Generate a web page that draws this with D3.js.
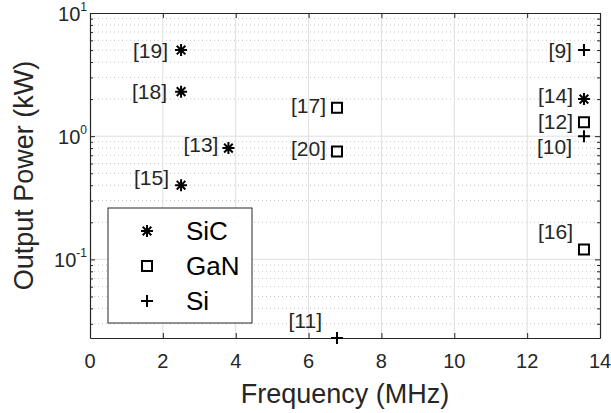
<!DOCTYPE html>
<html>
<head>
<meta charset="utf-8">
<script src="https://cdn.jsdelivr.net/npm/d3@7"></script>
<style>
  body { margin: 0; background: #fff; }
  svg { display: block; font-family: "Liberation Sans", Arial, Helvetica, sans-serif; }
</style>
</head>
<body>
<div id="chart"></div>
<script>
// values (frequency in MHz, output power in kW)
const sicFreq  = [2.5, 2.5, 3.8, 2.5, 13.56];
const sicPower = [5, 2.3, 0.8, 0.4, 2];
const sicRefs  = ['[19]', '[18]', '[13]', '[15]', '[14]'];

const ganFreq  = [6.78, 6.78, 13.56, 13.56];
const ganPower = [1.7, 0.75, 1.3, 0.12];
const ganRefs  = ['[17]', '[20]', '[12]', '[16]'];

const siFreq   = [13.56, 13.56, 6.78];
const siPower  = [5, 1.0, 0.023];
const siRefs   = ['[9]', '[10]', '[11]'];

const seriesNames = ['SiC', 'GaN', 'Si'];
const xTicks = [0, 2, 4, 6, 8, 10, 12, 14];
const yDecades = [0.1, 1, 10];
const yExponents = ['-1', '0', '1'];

// pixel nudges for the reference labels [dx, dy] relative to the marker
const labelNudge = {
    '[19]': [-13, 0], '[18]': [-14, 0], '[13]': [-10, -4], '[15]': [-12, -8], '[14]': [-11, -4],
    '[17]': [-11, -2], '[20]': [-11, -3], '[12]': [-11, -1], '[16]': [-11, -18],
    '[9]': [-12, 0], '[10]': [-12, 10], '[11]': [-15, -18]
};

const W = 611, H = 413;
const margin = { top: 13, right: 11, bottom: 75, left: 90 };
const iw = W - margin.left - margin.right;
const ih = H - margin.top - margin.bottom;
const AX = '#262626';

const x = d3.scaleLinear().domain([0, 14]).range([0, iw]);
const y = d3.scaleLog().domain([0.023, 10]).range([ih, 0]);

const svg = d3.select('#chart').append('svg')
    .attr('width', W)
    .attr('height', H);

const g = svg.append('g').attr('transform', `translate(${margin.left},${margin.top})`);

// minor y values inside the domain
const minorY = [];
[0.01, 0.1, 1].forEach(dec => {
    for (let k = 2; k <= 9; k++) {
        const v = dec * k;
        if (v > y.domain()[0] && v < y.domain()[1]) minorY.push(v);
    }
});

// grid
g.append('g').selectAll('line').data(minorY).join('line')
    .attr('x1', 0).attr('x2', iw)
    .attr('y1', d => y(d)).attr('y2', d => y(d))
    .attr('stroke', '#c4c4c4')
    .attr('stroke-width', 1)
    .attr('stroke-dasharray', '1,3');

g.append('g').selectAll('line').data(xTicks.slice(1, -1)).join('line')
    .attr('x1', d => x(d)).attr('x2', d => x(d))
    .attr('y1', 0).attr('y2', ih)
    .attr('stroke', '#dfdfdf')
    .attr('stroke-width', 1);

g.append('g').selectAll('line').data(yDecades.slice(0, -1)).join('line')
    .attr('x1', 0).attr('x2', iw)
    .attr('y1', d => y(d)).attr('y2', d => y(d))
    .attr('stroke', '#dfdfdf')
    .attr('stroke-width', 1);

// axes with inward ticks on all four sides
const xAxisB = d3.axisBottom(x).tickValues(xTicks).tickSizeInner(-5).tickSizeOuter(0).tickFormat('');
const xAxisT = d3.axisTop(x).tickValues(xTicks).tickSizeInner(-5).tickSizeOuter(0).tickFormat('');
const yAxisL = d3.axisLeft(y).tickValues(yDecades).tickSizeInner(-5).tickSizeOuter(0).tickFormat('');
const yAxisR = d3.axisRight(y).tickValues(yDecades).tickSizeInner(-5).tickSizeOuter(0).tickFormat('');
const yMinorL = d3.axisLeft(y).tickValues(minorY).tickSizeInner(-3).tickSizeOuter(0).tickFormat('');
const yMinorR = d3.axisRight(y).tickValues(minorY).tickSizeInner(-3).tickSizeOuter(0).tickFormat('');

function styleAxis(sel) {
    sel.selectAll('path').attr('stroke', AX).attr('stroke-width', 1.2);
    sel.selectAll('line').attr('stroke', AX).attr('stroke-width', 1);
}

g.append('g').attr('transform', `translate(0,${ih})`).call(xAxisB).call(styleAxis);
g.append('g').call(xAxisT).call(styleAxis);
g.append('g').call(yAxisL).call(styleAxis);
g.append('g').attr('transform', `translate(${iw},0)`).call(yAxisR).call(styleAxis);
g.append('g').call(yMinorL).call(styleAxis).select('path').remove();
g.append('g').attr('transform', `translate(${iw},0)`).call(yMinorR).call(styleAxis).select('path').remove();

// tick labels
g.append('g').selectAll('text').data(xTicks).join('text')
    .attr('x', d => x(d))
    .attr('y', ih + 30)
    .attr('text-anchor', 'middle')
    .attr('font-size', 20)
    .attr('fill', AX)
    .text(d => d);

const yl = g.append('g').selectAll('text').data(yDecades).join('text')
    .attr('x', -3)
    .attr('y', d => y(d) + 8)
    .attr('text-anchor', 'end')
    .attr('font-size', 20)
    .attr('fill', AX);
yl.append('tspan').text('10');
yl.append('tspan')
    .attr('dy', -10)
    .attr('font-size', 12)
    .text((d, i) => yExponents[i]);

// axis titles
svg.append('text')
    .attr('x', margin.left + iw / 2)
    .attr('y', 403)
    .attr('text-anchor', 'middle')
    .attr('font-size', 27)
    .attr('fill', AX)
    .text('Frequency (MHz)');

svg.append('text')
    .attr('transform', `translate(33,${margin.top + ih / 2}) rotate(-90)`)
    .attr('text-anchor', 'middle')
    .attr('font-size', 27)
    .attr('fill', AX)
    .text('Output Power (kW)');

// marker shapes
const R = 6;
const shapes = {
    SiC: `M0,${-R}V${R}M${-R},0H${R}M${-R * 0.72},${-R * 0.72}L${R * 0.72},${R * 0.72}M${-R * 0.72},${R * 0.72}L${R * 0.72},${-R * 0.72}`,
    GaN: `M-5,-5H5V5H-5Z`,
    Si: `M0,${-R}V${R}M${-R},0H${R}`
};

const series = [
    { name: 'SiC', freq: sicFreq, power: sicPower, refs: sicRefs },
    { name: 'GaN', freq: ganFreq, power: ganPower, refs: ganRefs },
    { name: 'Si', freq: siFreq, power: siPower, refs: siRefs }
];

series.forEach(s => {
    const pts = s.freq.map((f, i) => ({ f, p: s.power[i], ref: s.refs[i] }));

    g.append('g').selectAll('path').data(pts).join('path')
        .attr('transform', d => `translate(${x(d.f)},${y(d.p)})`)
        .attr('d', shapes[s.name])
        .attr('fill', 'none')
        .attr('stroke', '#000')
        .attr('stroke-width', 2);

    g.append('g').selectAll('text').data(pts).join('text')
        .attr('x', d => x(d.f) + labelNudge[d.ref][0])
        .attr('y', d => y(d.p) + labelNudge[d.ref][1])
        .attr('dy', '0.36em')
        .attr('text-anchor', 'end')
        .attr('font-size', 21)
        .attr('fill', AX)
        .text(d => d.ref);
});

// legend
const lg = svg.append('g').attr('transform', 'translate(108,208)');
lg.append('rect')
    .attr('width', 144)
    .attr('height', 115)
    .attr('fill', '#fff')
    .attr('stroke', AX)
    .attr('stroke-width', 1);

const rows = lg.selectAll('g.row').data(seriesNames).join('g')
    .attr('class', 'row')
    .attr('transform', (d, i) => `translate(0,${23 + i * 35})`);

rows.append('path')
    .attr('transform', 'translate(39,0)')
    .attr('d', d => shapes[d])
    .attr('fill', 'none')
    .attr('stroke', '#000')
    .attr('stroke-width', 2);

rows.append('text')
    .attr('x', 78)
    .attr('dy', '0.36em')
    .attr('font-size', 26)
    .attr('fill', '#000')
    .text(d => d);
</script>
</body>
</html>
